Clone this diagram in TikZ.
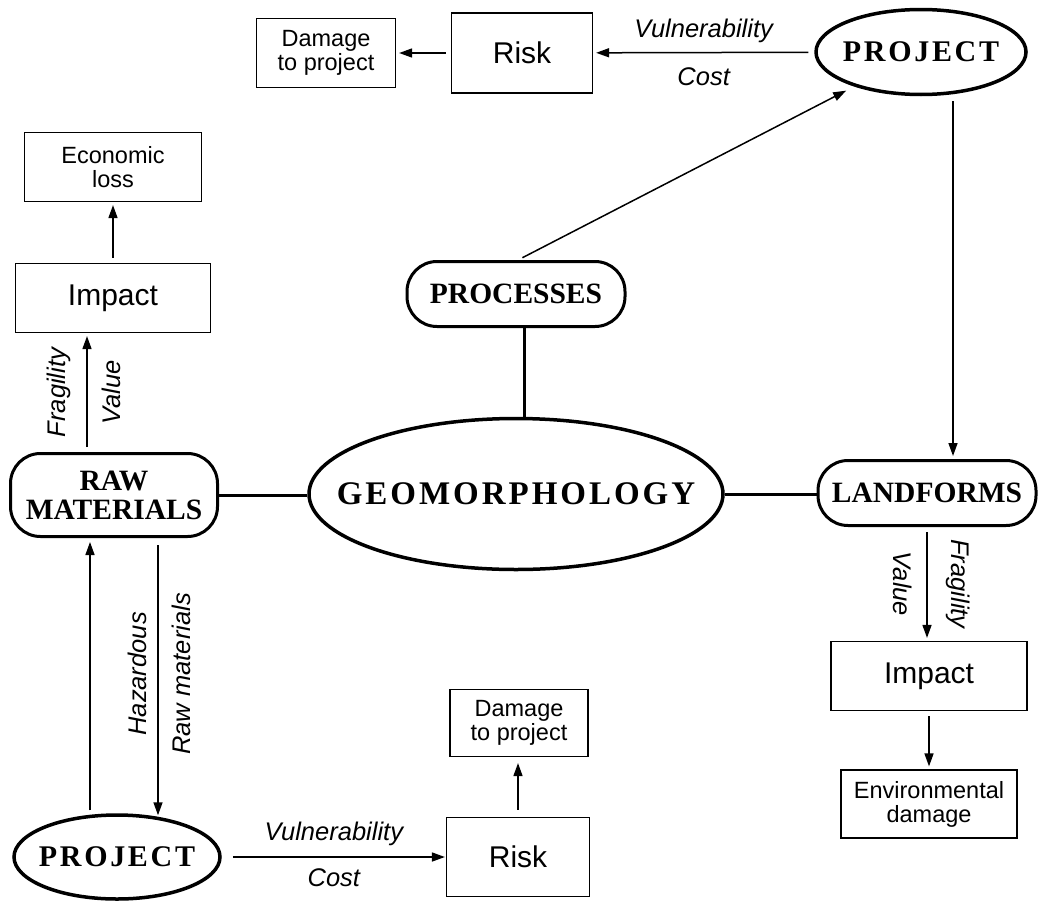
\documentclass[tikz,border=0pt]{standalone}
\usepackage{fontspec}
\setmainfont{Liberation Sans}
\newfontfamily\headfont{Liberation Serif}
\newfontfamily\spacedfont[LetterSpace=9]{Liberation Serif}
\usetikzlibrary{shapes.geometric,arrows.meta}

\begin{document}
\begin{tikzpicture}[x=1pt, y=-1pt, >={Triangle[length=13pt,width=9pt]}]
        \tikzstyle{box}=[rectangle,draw=black,line width=1.2pt,inner sep=0pt,align=center,font=\fontsize{23.5}{24}\selectfont]
        \tikzstyle{bigbox}=[box,font=\fontsize{30}{30}\selectfont]
        \tikzstyle{oval}=[ellipse,draw=black,line width=3.5pt,inner ysep=0pt,font=\spacedfont\bfseries\fontsize{30}{30}\selectfont]
        \tikzstyle{pill}=[rectangle,rounded corners=30pt,draw=black,line width=3pt,inner sep=0pt,align=center,font=\headfont\bfseries\fontsize{29.5}{29}\selectfont]
        \tikzstyle{link}=[->,line width=1.5pt,shorten >=3pt,shorten <=5pt]
        \tikzstyle{bond}=[line width=3pt]
        \tikzstyle{tag}=[font=\itshape\fontsize{25.5}{26}\selectfont]

        \useasboundingbox (0,0) rectangle (1040,902);

        % top row
        \node[box, minimum width=139pt, minimum height=69pt] (dmgT) at (326,53) {Damage\\to project};
        \node[bigbox, minimum width=141pt, minimum height=80pt] (riskT) at (522,53) {Risk};
        \node[oval, minimum width=210pt, minimum height=85pt, inner xsep=-10pt] (projT) at (921,52) {PROJECT};

        % left column
        \node[box, minimum width=177pt, minimum height=69pt] (econ) at (113,167) {Economic\\loss};
        \node[bigbox, minimum width=195pt, minimum height=69pt] (impL) at (113,298) {Impact};
        \node[pill, minimum width=207pt, minimum height=83pt] (raw) at (114,495) {RAW\\MATERIALS};

        % centre
        \node[pill, minimum width=218pt, minimum height=65pt] (proc) at (516,294) {PROCESSES};
        \node[oval, minimum width=414pt, minimum height=151pt, inner xsep=-40pt, font=\spacedfont\bfseries\fontsize{33}{33}\selectfont] (geo) at (516,494) {GEOMORPHOLOGY};

        % right column
        \node[pill, minimum width=218pt, minimum height=65pt] (land) at (927,493) {LANDFORMS};
        \node[bigbox, minimum width=196pt, minimum height=69pt] (impR) at (929,676) {Impact};
        \node[box, minimum width=176pt, minimum height=68pt] (env) at (929,804) {Environmental\\damage};

        % bottom row
        \node[box, minimum width=138pt, minimum height=67pt] (dmgB) at (519,723) {Damage\\to project};
        \node[bigbox, minimum width=143pt, minimum height=79pt] (riskB) at (518,857) {Risk};
        \node[oval, minimum width=206pt, minimum height=84pt, inner xsep=-10pt] (projB) at (117,857) {PROJECT};

        \draw[bond] (raw.east) -- (raw.east -| geo.west);
        \draw[bond] ([xshift=8pt]proc.south) -- ([xshift=8pt]geo.north);
        \draw[bond] (geo.east) -- (geo.east -| land.west);

        \draw[link] (riskT) -- (dmgT);
        \draw[link, shorten <=6pt] (projT) -- (riskT)
            node[tag, midway, anchor=south, inner sep=9pt] {Vulnerability}
            node[tag, midway, anchor=north, inner sep=14pt] {Cost};
        \draw[link, shorten >=9pt] ([xshift=2pt]proc.north) -- (projT);
        \draw[link] ([xshift=32pt]projT.south) -- ([xshift=26pt]land.north);

        \draw[link] (impL.north) -- (econ.south);
        \draw[link] ([xshift=-27pt]raw.north) -- ([xshift=-26pt]impL.south)
            node[tag, midway, rotate=90, anchor=south, inner sep=15pt] {Fragility}
            node[tag, midway, rotate=90, anchor=north, inner sep=14pt] {Value};

        \draw[link] (land.south) -- (land.south |- impR.north)
            node[tag, midway, rotate=-90, anchor=north, inner sep=14pt] {Value}
            node[tag, midway, rotate=-90, anchor=south, inner sep=18pt] {Fragility};
        \draw[link] (impR.south) -- (env.north);

        \draw[link, shorten <=3pt, shorten >=4pt] ([xshift=-27pt]projB.north) -- ([xshift=-24pt]raw.south);
        \draw[link, shorten <=7pt, shorten >=0pt] ([xshift=44pt]raw.south) -- ([xshift=41pt,yshift=-2pt]projB.north)
            node[tag, pos=0.49, rotate=90, anchor=south, inner sep=10pt] {Hazardous}
            node[tag, pos=0.49, rotate=90, anchor=north, inner sep=13pt] {Raw materials};
        \draw[link, shorten <=11pt, shorten >=1pt] (projB.east) -- (riskB.west)
            node[tag, midway, anchor=south, inner sep=10pt] {Vulnerability}
            node[tag, midway, anchor=north, inner sep=11pt] {Cost};
        \draw[link, shorten <=7pt, shorten >=6pt] (riskB.north) -- (riskB.north |- dmgB.south);
    \end{tikzpicture}
\end{document}
